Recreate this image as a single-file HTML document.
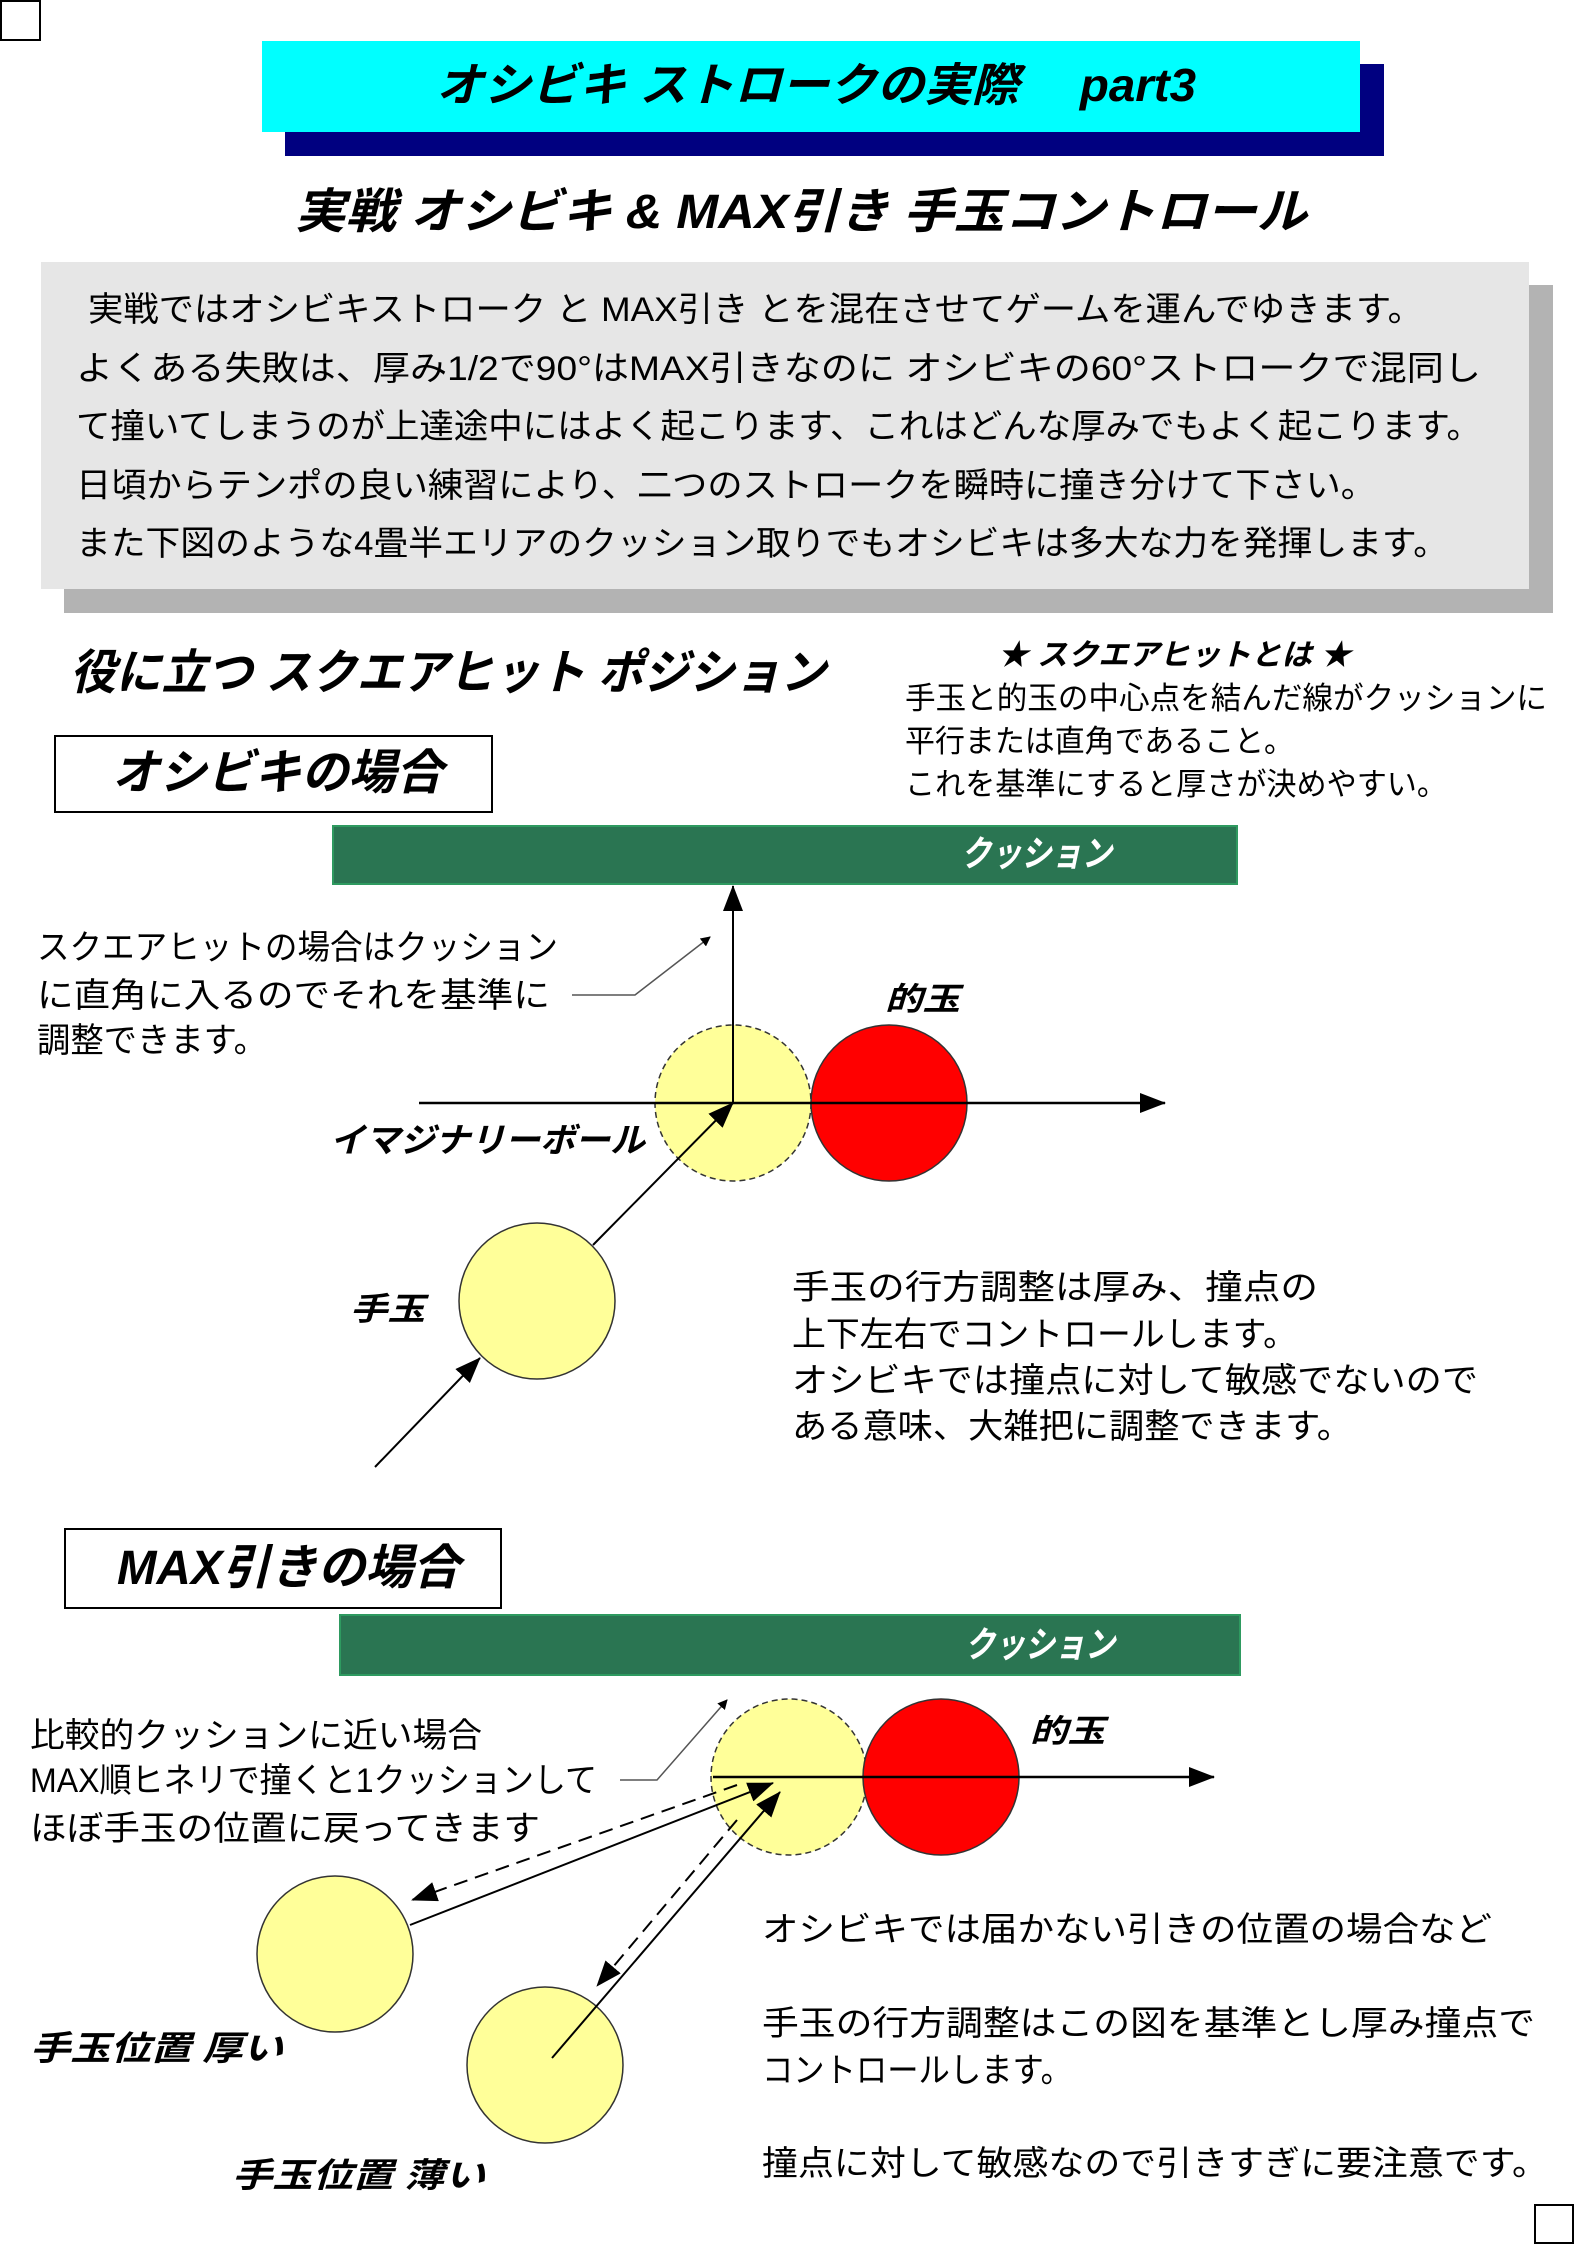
<!DOCTYPE html>
<html><head><meta charset="utf-8"><style>
html,body{margin:0;padding:0;background:#fff;}
svg{display:block;}
text{font-family:"Liberation Sans","Noto Sans CJK JP",sans-serif;}
.bi{font-weight:bold;font-style:italic;}
</style></head><body>
<svg width="1578" height="2247" viewBox="0 0 1578 2247" xmlns="http://www.w3.org/2000/svg">
<defs>
<marker id="ah" markerWidth="10" markerHeight="10" refX="9" refY="5" orient="auto" markerUnits="userSpaceOnUse" viewBox="0 0 10 10">
<path d="M0,0 L10,5 L0,10 z" fill="#000"/></marker>
<marker id="ahb" markerWidth="26" markerHeight="20" refX="25" refY="10" orient="auto" markerUnits="userSpaceOnUse" viewBox="0 0 26 20">
<path d="M0,0 L26,10 L0,20 z" fill="#000"/></marker>
</defs>
<rect x="1" y="1" width="39" height="39" fill="#fff" stroke="#000" stroke-width="2"/>
<rect x="1535" y="2205" width="38" height="38" fill="#fff" stroke="#000" stroke-width="2"/>

<rect x="285" y="64" width="1099" height="92" fill="#000080"/>
<rect x="262" y="41" width="1098" height="91" fill="#00ffff"/>
<text x="436" y="101" class="bi" font-size="46" textLength="760" lengthAdjust="spacingAndGlyphs">オシビキ ストロークの実際　 part3</text>

<text x="295" y="228" class="bi" font-size="48" textLength="1012" lengthAdjust="spacingAndGlyphs">実戦  オシビキ  &amp;  MAX引き  手玉コントロール</text>

<rect x="64" y="285" width="1489" height="328" fill="#b3b3b3"/>
<rect x="41" y="262" width="1488" height="327" fill="#e6e6e6"/>
<g font-size="34">
<text x="88" y="321" textLength="1335" lengthAdjust="spacingAndGlyphs">実戦ではオシビキストローク と MAX引き とを混在させてゲームを運んでゆきます。</text>
<text x="76" y="380" textLength="1405" lengthAdjust="spacingAndGlyphs">よくある失敗は、厚み1/2で90°はMAX引きなのに  オシビキの60°ストロークで混同し</text>
<text x="76" y="438" textLength="1405" lengthAdjust="spacingAndGlyphs">て撞いてしまうのが上達途中にはよく起こります、これはどんな厚みでもよく起こります。</text>
<text x="76" y="497" textLength="1300" lengthAdjust="spacingAndGlyphs">日頃からテンポの良い練習により、二つのストロークを瞬時に撞き分けて下さい。</text>
<text x="76" y="555" textLength="1372" lengthAdjust="spacingAndGlyphs">また下図のような4畳半エリアのクッション取りでもオシビキは多大な力を発揮します。</text>
</g>

<text x="70" y="689" class="bi" font-size="48" textLength="756" lengthAdjust="spacingAndGlyphs">役に立つ  スクエアヒット  ポジション</text>
<text x="998" y="665" class="bi" font-size="30" textLength="353" lengthAdjust="spacingAndGlyphs">★  スクエアヒットとは  ★</text>
<g font-size="31">
<text x="905" y="709" textLength="642" lengthAdjust="spacingAndGlyphs">手玉と的玉の中心点を結んだ線がクッションに</text>
<text x="905" y="752" textLength="389" lengthAdjust="spacingAndGlyphs">平行または直角であること。</text>
<text x="905" y="795" textLength="542" lengthAdjust="spacingAndGlyphs">これを基準にすると厚さが決めやすい。</text>
</g>

<rect x="55" y="736" width="437" height="76" fill="#fff" stroke="#000" stroke-width="2"/>
<text x="112" y="789" class="bi" font-size="48" textLength="331" lengthAdjust="spacingAndGlyphs">オシビキの場合</text>

<rect x="333" y="826" width="904" height="58" fill="#2a7552" stroke="#2e9a60" stroke-width="2"/>
<text x="961" y="866" class="bi" font-size="36" fill="#fff" textLength="151" lengthAdjust="spacingAndGlyphs">クッション</text>

<g font-size="34">
<text x="37" y="959" textLength="521" lengthAdjust="spacingAndGlyphs">スクエアヒットの場合はクッション</text>
<text x="37" y="1007" textLength="513" lengthAdjust="spacingAndGlyphs">に直角に入るのでそれを基準に</text>
<text x="37" y="1052" textLength="230" lengthAdjust="spacingAndGlyphs">調整できます。</text>
</g>
<polyline points="572,995 635,995 710,937" fill="none" stroke="#555" stroke-width="1.5" marker-end="url(#ah)"/>

<circle cx="733" cy="1103" r="78" fill="#ffff99" stroke="#333" stroke-width="1.5" stroke-dasharray="6,4"/>
<circle cx="889" cy="1103" r="78" fill="#ff0000" stroke="#333" stroke-width="1.5"/>
<circle cx="537" cy="1301" r="78" fill="#ffff99" stroke="#333" stroke-width="1.5"/>
<line x1="419" y1="1103" x2="1165" y2="1103" stroke="#000" stroke-width="2.5" marker-end="url(#ahb)"/>
<line x1="733" y1="1103" x2="733" y2="886" stroke="#000" stroke-width="2" marker-end="url(#ahb)"/>
<line x1="593" y1="1245" x2="733" y2="1103" stroke="#000" stroke-width="2" marker-end="url(#ahb)"/>
<line x1="375" y1="1467" x2="480" y2="1358" stroke="#000" stroke-width="2" marker-end="url(#ahb)"/>
<text x="885" y="1010" class="bi" font-size="32" textLength="75" lengthAdjust="spacingAndGlyphs">的玉</text>
<text x="330" y="1152" class="bi" font-size="34" textLength="315" lengthAdjust="spacingAndGlyphs">イマジナリーボール</text>
<text x="350" y="1320" class="bi" font-size="32" textLength="75" lengthAdjust="spacingAndGlyphs">手玉</text>
<g font-size="34">
<text x="792" y="1299" textLength="526" lengthAdjust="spacingAndGlyphs">手玉の行方調整は厚み、撞点の</text>
<text x="792" y="1346" textLength="505" lengthAdjust="spacingAndGlyphs">上下左右でコントロールします。</text>
<text x="792" y="1392" textLength="686" lengthAdjust="spacingAndGlyphs">オシビキでは撞点に対して敏感でないので</text>
<text x="792" y="1438" textLength="560" lengthAdjust="spacingAndGlyphs">ある意味、大雑把に調整できます。</text>
</g>

<rect x="65" y="1529" width="436" height="79" fill="#fff" stroke="#000" stroke-width="2"/>
<text x="117" y="1584" class="bi" font-size="48" textLength="343" lengthAdjust="spacingAndGlyphs">MAX引きの場合</text>

<rect x="340" y="1615" width="900" height="60" fill="#2a7552" stroke="#2e9a60" stroke-width="2"/>
<text x="965" y="1657" class="bi" font-size="36" fill="#fff" textLength="150" lengthAdjust="spacingAndGlyphs">クッション</text>

<g font-size="34">
<text x="30" y="1747" textLength="452" lengthAdjust="spacingAndGlyphs">比較的クッションに近い場合</text>
<text x="30" y="1792" textLength="567" lengthAdjust="spacingAndGlyphs">MAX順ヒネリで撞くと1クッションして</text>
<text x="30" y="1840" textLength="510" lengthAdjust="spacingAndGlyphs">ほぼ手玉の位置に戻ってきます</text>
</g>
<polyline points="620,1780 657,1780 727,1700" fill="none" stroke="#555" stroke-width="1.5" marker-end="url(#ah)"/>

<circle cx="789" cy="1777" r="78" fill="#ffff99" stroke="#333" stroke-width="1.5" stroke-dasharray="6,4"/>
<circle cx="941" cy="1777" r="78" fill="#ff0000" stroke="#333" stroke-width="1.5"/>
<circle cx="335" cy="1954" r="78" fill="#ffff99" stroke="#333" stroke-width="1.5"/>
<circle cx="545" cy="2065" r="78" fill="#ffff99" stroke="#333" stroke-width="1.5"/>
<line x1="713" y1="1777" x2="1214" y2="1777" stroke="#000" stroke-width="2.5" marker-end="url(#ahb)"/>
<line x1="410" y1="1925" x2="773" y2="1783" stroke="#000" stroke-width="2" marker-end="url(#ahb)"/>
<line x1="737" y1="1785" x2="412" y2="1900" stroke="#000" stroke-width="2" stroke-dasharray="14,8" marker-end="url(#ahb)"/>
<line x1="552" y1="2058" x2="780" y2="1792" stroke="#000" stroke-width="2" marker-end="url(#ahb)"/>
<line x1="737" y1="1820" x2="597" y2="1986" stroke="#000" stroke-width="2" stroke-dasharray="14,8" marker-end="url(#ahb)"/>
<text x="1030" y="1742" class="bi" font-size="32" textLength="75" lengthAdjust="spacingAndGlyphs">的玉</text>
<text x="30" y="2060" class="bi" font-size="34" textLength="253" lengthAdjust="spacingAndGlyphs">手玉位置  厚い</text>
<text x="232" y="2187" class="bi" font-size="34" textLength="253" lengthAdjust="spacingAndGlyphs">手玉位置  薄い</text>
<g font-size="34">
<text x="762" y="1941" textLength="730" lengthAdjust="spacingAndGlyphs">オシビキでは届かない引きの位置の場合など</text>
<text x="762" y="2035" textLength="773" lengthAdjust="spacingAndGlyphs">手玉の行方調整はこの図を基準とし厚み撞点で</text>
<text x="762" y="2082" textLength="310" lengthAdjust="spacingAndGlyphs">コントロールします。</text>
<text x="762" y="2175" textLength="786" lengthAdjust="spacingAndGlyphs">撞点に対して敏感なので引きすぎに要注意です。</text>
</g>
</svg>
</body></html>
